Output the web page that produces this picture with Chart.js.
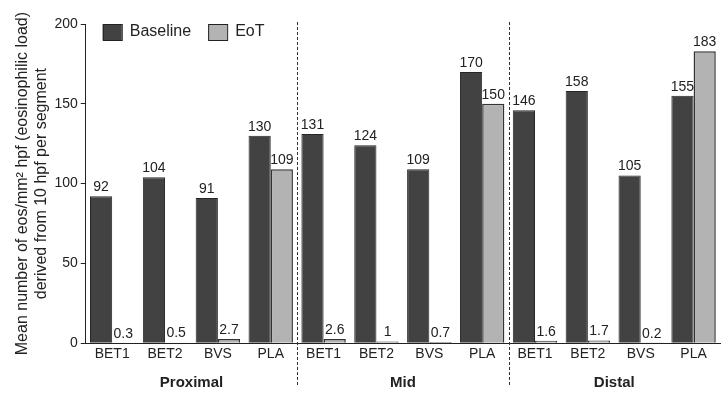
<!DOCTYPE html>
<html>
<head>
<meta charset="utf-8">
<script src="https://cdn.jsdelivr.net/npm/chart.js@4/dist/chart.umd.min.js"></script>
<style>
  html, body { margin: 0; padding: 0; background: #fff; }
  #wrap { width: 727px; height: 400px; }
</style>
</head>
<body>
<div id="wrap"><canvas id="chart" width="727" height="400"></canvas></div>
<script>
const devices = ['BET1', 'BET2', 'BVS', 'PLA', 'BET1', 'BET2', 'BVS', 'PLA', 'BET1', 'BET2', 'BVS', 'PLA'];
const segments = ['Proximal', 'Mid', 'Distal'];
const baseline = [92, 104, 91, 130, 131, 124, 109, 170, 146, 158, 105, 155];
const eot = [0.3, 0.5, 2.7, 109, 2.6, 1, 0.7, 150, 1.6, 1.7, 0.2, 183];
const yTicks = [0, 50, 100, 150, 200];

const font = 'Liberation Sans, Arial, sans-serif';
const textColor = '#222';

// value labels above each bar
const valueLabels = {
    id: 'valueLabels',
    afterDatasetsDraw(chart) {
        const ctx = chart.ctx;
        ctx.save();
        ctx.font = '14px ' + font;
        ctx.fillStyle = textColor;
        ctx.textAlign = 'center';
        ctx.textBaseline = 'bottom';
        chart.data.datasets.forEach((ds, i) => {
            chart.getDatasetMeta(i).data.forEach((bar, j) => {
                ctx.fillText(String(ds.data[j]), bar.x, bar.y - 2);
            });
        });
        ctx.restore();
    },
};

// dashed separators between segments
const separators = {
    id: 'separators',
    afterDraw(chart) {
        const x = chart.scales.x;
        const ctx = chart.ctx;
        ctx.save();
        ctx.strokeStyle = '#333';
        ctx.lineWidth = 1;
        ctx.setLineDash([3, 2]);
        [3.5, 7.5].forEach(v => {
            const px = Math.round(x.getPixelForValue(v)) + 0.5;
            ctx.beginPath();
            ctx.moveTo(px, chart.chartArea.top - 2);
            ctx.lineTo(px, chart.chartArea.bottom + 42);
            ctx.stroke();
        });
        ctx.restore();
    },
};

// legend drawn inside the plot area
const insideLegend = {
    id: 'insideLegend',
    afterDraw(chart) {
        const ctx = chart.ctx;
        const top = chart.chartArea.top;
        const left = chart.chartArea.left;
        ctx.save();
        ctx.font = '16px ' + font;
        ctx.textBaseline = 'middle';
        let x = left + 17;
        chart.data.datasets.forEach(ds => {
            ctx.fillStyle = ds.backgroundColor;
            ctx.strokeStyle = '#222';
            ctx.lineWidth = 1;
            ctx.fillRect(x, top, 19, 16);
            ctx.strokeRect(x + 0.5, top + 0.5, 19, 16);
            ctx.fillStyle = textColor;
            ctx.fillText(ds.label, x + 27, top + 8);
            x += 27 + ctx.measureText(ds.label).width + 17;
        });
        ctx.restore();
    },
};

new Chart(document.getElementById('chart'), {
    type: 'bar',
    data: {
        labels: devices,
        datasets: [
            {
                label: 'Baseline',
                data: baseline,
                backgroundColor: '#424242',
                borderColor: '#262626',
                borderWidth: 1,
                categoryPercentage: 0.84,
                barPercentage: 1,
            },
            {
                label: 'EoT',
                data: eot,
                backgroundColor: '#b3b3b3',
                borderColor: '#333333',
                borderWidth: 1.5,
                categoryPercentage: 0.84,
                barPercentage: 1,
            },
        ],
    },
    options: {
        responsive: false,
        animation: false,
        layout: { padding: { top: 24, right: 7, left: 13, bottom: 0 } },
        plugins: { legend: { display: false }, tooltip: { enabled: false } },
        scales: {
            x: {
                grid: { display: false, drawTicks: false },
                border: { display: true, color: '#222', width: 1 },
                ticks: { color: textColor, font: { size: 14, family: font }, padding: 3, maxRotation: 0 },
            },
            x2: {
                type: 'category',
                labels: segments,
                position: 'bottom',
                grid: { display: false, drawTicks: false },
                border: { display: false },
                ticks: { color: textColor, font: { size: 15, weight: 'bold', family: font }, padding: 8 },
            },
            y: {
                min: 0,
                max: 200,
                afterBuildTicks(axis) { axis.ticks = yTicks.map(v => ({ value: v })); },
                grid: { drawOnChartArea: false, drawTicks: true, tickLength: 5, color: '#222' },
                border: { display: true, color: '#222', width: 1 },
                ticks: { color: textColor, font: { size: 14, family: font }, padding: 3 },
                title: {
                    display: true,
                    text: ['Mean number of eos/mm\u00b2 hpf (eosinophilic load)', 'derived from 10 hpf per segment'],
                    color: textColor,
                    font: { size: 16, family: font },
                    padding: { top: 0, bottom: 0 },
                },
            },
        },
    },
    plugins: [valueLabels, separators, insideLegend],
});
</script>
</body>
</html>
